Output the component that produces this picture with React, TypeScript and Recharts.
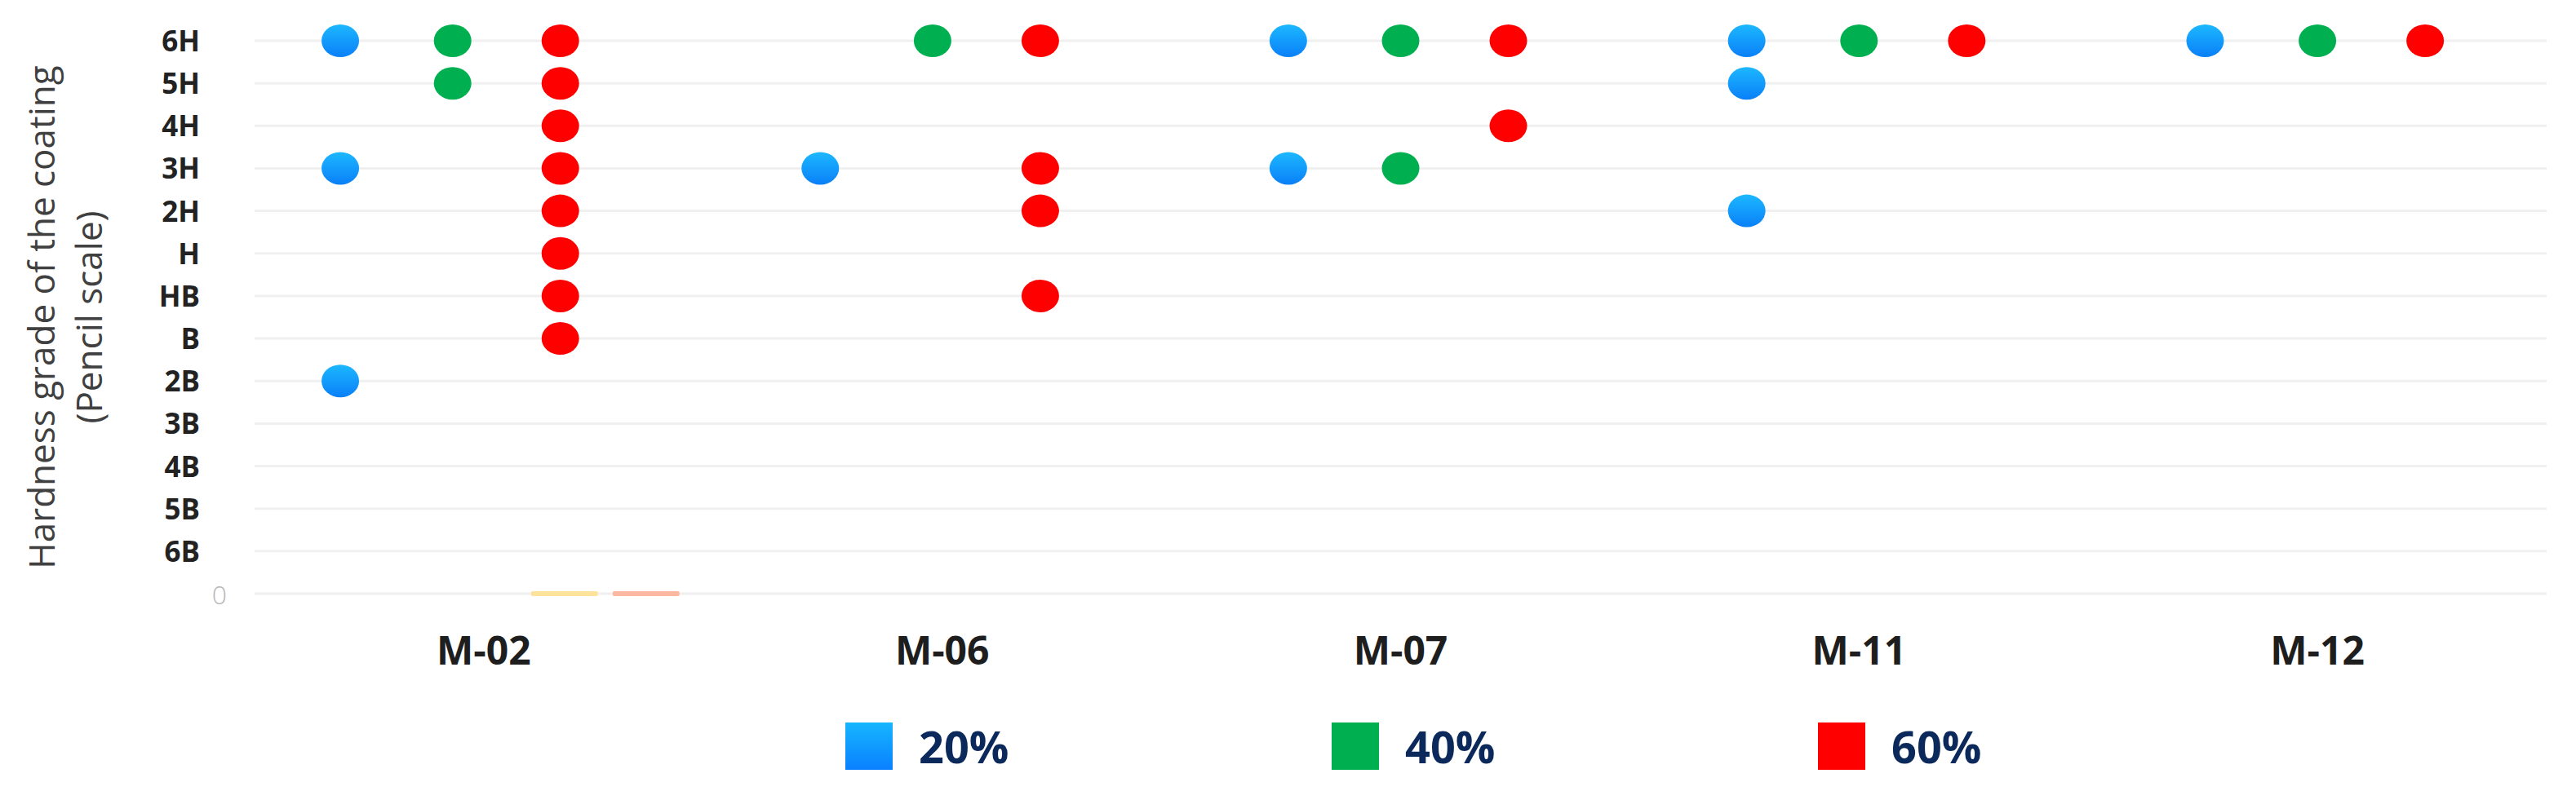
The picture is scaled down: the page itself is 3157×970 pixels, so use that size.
import React from "react";
import { ScatterChart, Scatter, XAxis, YAxis, CartesianGrid, Legend } from "recharts";

if (typeof document !== "undefined") {
  document.body.style.margin = "0";
}

// ---------- data ----------
const samples = ["M-02", "M-06", "M-07", "M-11", "M-12"];
const grades = ["0", "6B", "5B", "4B", "3B", "2B", "B", "HB", "H", "2H", "3H", "4H", "5H", "6H"];
const seriesNames = ["20%", "40%", "60%"];

const hardness20: [string, string][] = [
  ["M-02", "6H"], ["M-02", "3H"], ["M-02", "2B"],
  ["M-06", "3H"],
  ["M-07", "6H"], ["M-07", "3H"],
  ["M-11", "6H"], ["M-11", "5H"], ["M-11", "2H"],
  ["M-12", "6H"],
];
const hardness40: [string, string][] = [
  ["M-02", "6H"], ["M-02", "5H"],
  ["M-06", "6H"],
  ["M-07", "6H"], ["M-07", "3H"],
  ["M-11", "6H"],
  ["M-12", "6H"],
];
const hardness60: [string, string][] = [
  ["M-02", "6H"], ["M-02", "5H"], ["M-02", "4H"], ["M-02", "3H"], ["M-02", "2H"],
  ["M-02", "H"], ["M-02", "HB"], ["M-02", "B"],
  ["M-06", "6H"], ["M-06", "3H"], ["M-06", "2H"], ["M-06", "HB"],
  ["M-07", "6H"], ["M-07", "4H"],
  ["M-11", "6H"],
  ["M-12", "6H"],
];
const zeroMarksA: [string, string][] = [["M-02", "0"]];
const zeroMarksB: [string, string][] = [["M-02", "0"]];

// ---------- layout constants ----------
const SAMPLE_SHIFT = [-0.068, -0.021, 0, 0, 0];
const OFF20 = -0.245;
const OFF40 = 0;
const OFF60 = 0.235;
const OFFZA = 0.244;
const OFFZB = 0.422;

const COLORS = { c20: "url(#blueGrad)", c40: "#00B050", c60: "#FF0000" };
const FONT = "'Open Sans', 'Noto Sans', sans-serif";

const toPoints = (rows: [string, string][], off: number) =>
  rows.map(([s, g]) => {
    const i = samples.indexOf(s);
    return { sample: s, grade: g, x: i + off + SAMPLE_SHIFT[i], y: grades.indexOf(g) };
  });

const dotShape = (fill: string) => (p: any) =>
  <ellipse cx={p.cx} cy={p.cy} rx={23} ry={20} fill={fill} />;
const dashShape = (fill: string) => (p: any) =>
  <rect x={p.cx - 41} y={p.cy - 3} width={82} height={6} rx={2} fill={fill} />;

const XTick = (props: any) => {
  const { x, y, payload } = props;
  return (
    <text x={x} y={y} dy={79} textAnchor="middle" fontSize={48} fontWeight={700}
      fill="#1e1e1e" fontFamily={FONT}>
      {samples[payload.value]}
    </text>
  );
};

const YTick = (props: any) => {
  const { x, y, payload } = props;
  if (payload.value === 0) {
    return (
      <text x={x - 35} y={y} dy={13} textAnchor="middle" fontSize={32} fontWeight={300}
        fill="#b8b8b8" fontFamily={FONT}>0</text>
    );
  }
  return (
    <text x={x - 59} y={y} dy={13} textAnchor="end" fontSize={35} fontWeight={700}
      fill="#222" fontFamily={FONT}>
      {grades[payload.value]}
    </text>
  );
};

const YTitle = (props: any) => {
  const vb = props.viewBox || { y: 50, height: 678 };
  const cy = vb.y + vb.height / 2;
  return (
    <g>
      <text transform={`translate(50, ${cy}) rotate(-90)`} textAnchor="middle"
        dominantBaseline="central" fontSize={44} fill="#404040" fontFamily={FONT}>
        Hardness grade of the coating
      </text>
      <text transform={`translate(108, ${cy}) rotate(-90)`} textAnchor="middle"
        dominantBaseline="central" fontSize={44} fill="#404040" fontFamily={FONT}>
        (Pencil scale)
      </text>
    </g>
  );
};

const legendSwatches = [
  "linear-gradient(#16B6FF, #0A80FF)",
  "#00B050",
  "#FF0000",
];

const renderLegend = () => (
  <div style={{ height: 110, display: "flex", alignItems: "center", paddingLeft: 1036, boxSizing: "border-box" }}>
    {seriesNames.map((n, i) => (
      <div key={n} style={{ width: 596, display: "flex", alignItems: "center" }}>
        <div style={{ width: 58, height: 58, background: legendSwatches[i] }} />
        <span style={{ marginLeft: 32, fontSize: 54, fontWeight: 700, color: "#0B2A5B", fontFamily: FONT, lineHeight: 1 }}>
          {n}
        </span>
      </div>
    ))}
  </div>
);

export default function App() {
  return (
    <div style={{ width: 3157, height: 970, background: "#fff" }}>
      <ScatterChart width={3157} height={970} margin={{ top: 50, right: 36, bottom: 0, left: 0 }}>
        <defs>
          <linearGradient id="blueGrad" x1="0" y1="0" x2="0" y2="1">
            <stop offset="0%" stopColor="#1CB8FF" />
            <stop offset="100%" stopColor="#0A7FF8" />
          </linearGradient>
        </defs>
        <CartesianGrid horizontal vertical={false} stroke="#F0F0F0" strokeWidth={3} />
        <XAxis dataKey="x" type="number" domain={[-0.5, 4.5]} ticks={[0, 1, 2, 3, 4]}
          interval={0} axisLine={false} tickLine={false} height={132} tick={<XTick />} />
        <YAxis dataKey="y" type="number" domain={[0, 13]}
          ticks={[0, 1, 2, 3, 4, 5, 6, 7, 8, 9, 10, 11, 12, 13]} interval={0}
          axisLine={false} tickLine={false} width={312} tick={<YTick />}
          label={{ content: <YTitle /> }} />
        <Legend verticalAlign="bottom" content={renderLegend}
          wrapperStyle={{ left: 0, width: 3157, bottom: 0, height: 110 }} />
        <Scatter name="80%" data={toPoints(zeroMarksA, OFFZA)} legendType="none"
          shape={dashShape("#FFE39A")} isAnimationActive={false} />
        <Scatter name="100%" data={toPoints(zeroMarksB, OFFZB)} legendType="none"
          shape={dashShape("#FFB8A0")} isAnimationActive={false} />
        <Scatter name={seriesNames[0]} data={toPoints(hardness20, OFF20)}
          shape={dotShape(COLORS.c20)} isAnimationActive={false} />
        <Scatter name={seriesNames[1]} data={toPoints(hardness40, OFF40)}
          shape={dotShape(COLORS.c40)} isAnimationActive={false} />
        <Scatter name={seriesNames[2]} data={toPoints(hardness60, OFF60)}
          shape={dotShape(COLORS.c60)} isAnimationActive={false} />
      </ScatterChart>
    </div>
  );
}
